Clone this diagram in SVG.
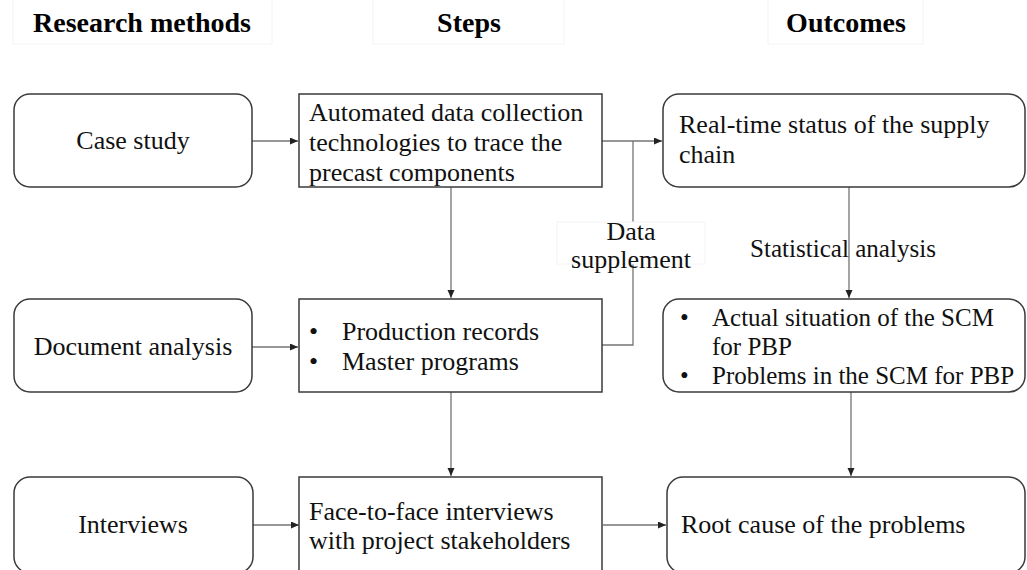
<svg xmlns="http://www.w3.org/2000/svg" width="1027" height="570" viewBox="0 0 1027 570">
  <style>
    .hdr { font-family: "Liberation Serif", "Times New Roman", serif; font-size: 28px; font-weight: bold; fill: #000; text-anchor: middle; }
    .hdrbox { fill: #fff; stroke: #f4f4f4; stroke-width: 1; }
    .box { fill: #fff; stroke: #3a3a3a; stroke-width: 1.5; }
    .txt { font-family: "Liberation Serif", "Times New Roman", serif; font-size: 26px; fill: #111; }
    .sm { font-size: 25px; }
    .mid { text-anchor: middle; }
    .conn { fill: none; stroke: #747474; stroke-width: 1.3; }
    .lblbox { fill: #fff; stroke: #f4f4f4; stroke-width: 1; }
  </style>
  <defs>
    <marker id="arrow" markerUnits="userSpaceOnUse" markerWidth="9" markerHeight="8" refX="8" refY="3.5" orient="auto">
      <path d="M0,0 L8,3.5 L0,7 z" fill="#222"/>
    </marker>
  </defs>

  <rect width="1027" height="570" fill="#fff"/>

  <!-- column headings -->
  <g id="headings">
    <rect class="hdrbox" x="13" y="-1" width="259" height="45"/>
    <rect class="hdrbox" x="373" y="-1" width="191" height="45"/>
    <rect class="hdrbox" x="768" y="-1" width="155" height="45"/>
    <text class="hdr" x="142" y="32">Research methods</text>
    <text class="hdr" x="469" y="32">Steps</text>
    <text class="hdr" x="846" y="32">Outcomes</text>
  </g>

  <!-- connectors -->
  <g id="connectors">
    <line class="conn" x1="252" y1="141" x2="298" y2="141" marker-end="url(#arrow)"/>
    <line class="conn" x1="602" y1="141" x2="662" y2="141" marker-end="url(#arrow)"/>
    <polyline class="conn" points="633,141 633,345 602,345"/>
    <line class="conn" x1="451" y1="187" x2="451" y2="298" marker-end="url(#arrow)"/>
    <line class="conn" x1="849" y1="187" x2="849" y2="298" marker-end="url(#arrow)"/>
    <line class="conn" x1="252" y1="347" x2="298" y2="347" marker-end="url(#arrow)"/>
    <line class="conn" x1="451" y1="392" x2="451" y2="476" marker-end="url(#arrow)"/>
    <line class="conn" x1="851" y1="392" x2="851" y2="476" marker-end="url(#arrow)"/>
    <line class="conn" x1="253" y1="525" x2="299" y2="525" marker-end="url(#arrow)"/>
    <line class="conn" x1="603" y1="525" x2="666" y2="525" marker-end="url(#arrow)"/>
  </g>

  <!-- connector labels -->
  <g id="label-data-supplement">
    <rect class="lblbox" x="557" y="222" width="148" height="42"/>
    <text class="txt mid" x="631" y="240">Data</text>
    <text class="txt mid" x="631" y="268">supplement</text>
  </g>
  <g id="label-statistical-analysis">
    <text class="txt mid" x="843" y="257" textLength="186" lengthAdjust="spacingAndGlyphs">Statistical analysis</text>
  </g>

  <!-- research methods -->
  <g id="case-study">
    <rect class="box" x="14" y="94" width="238" height="93" rx="16"/>
    <text class="txt mid" x="133" y="149">Case study</text>
  </g>
  <g id="document-analysis">
    <rect class="box" x="14" y="299" width="238" height="93" rx="16"/>
    <text class="txt mid" x="133" y="355">Document analysis</text>
  </g>
  <g id="interviews">
    <rect class="box" x="14" y="477" width="239" height="96" rx="16"/>
    <text class="txt mid" x="133" y="533">Interviews</text>
  </g>

  <!-- steps -->
  <g id="step-data-collection">
    <rect class="box" x="299" y="94" width="303" height="93"/>
    <text class="txt" x="309" y="121">Automated data collection</text>
    <text class="txt" x="309" y="151">technologies to trace the</text>
    <text class="txt" x="309" y="181">precast components</text>
  </g>
  <g id="step-documents">
    <rect class="box" x="299" y="299" width="303" height="93"/>
    <text class="txt" x="309" y="340">•</text>
    <text class="txt" x="342" y="340">Production records</text>
    <text class="txt" x="309" y="370">•</text>
    <text class="txt" x="342" y="370">Master programs</text>
  </g>
  <g id="step-interviews">
    <rect class="box" x="299" y="477" width="303" height="96"/>
    <text class="txt" x="309" y="520">Face-to-face interviews</text>
    <text class="txt" x="309" y="549">with project stakeholders</text>
  </g>

  <!-- outcomes -->
  <g id="outcome-status">
    <rect class="box" x="663" y="94" width="362" height="93" rx="16"/>
    <text class="txt" x="679" y="133">Real-time status of the supply</text>
    <text class="txt" x="679" y="163">chain</text>
  </g>
  <g id="outcome-situation">
    <rect class="box" x="663" y="299" width="362" height="93" rx="16"/>
    <text class="txt sm" x="680" y="326">•</text>
    <text class="txt sm" x="712" y="326">Actual situation of the SCM</text>
    <text class="txt sm" x="712" y="355">for PBP</text>
    <text class="txt sm" x="680" y="384">•</text>
    <text class="txt sm" x="712" y="384">Problems in the SCM for PBP</text>
  </g>
  <g id="outcome-root-cause">
    <rect class="box" x="667" y="477" width="358" height="96" rx="16"/>
    <text class="txt" x="681" y="533">Root cause of the problems</text>
  </g>
</svg>
